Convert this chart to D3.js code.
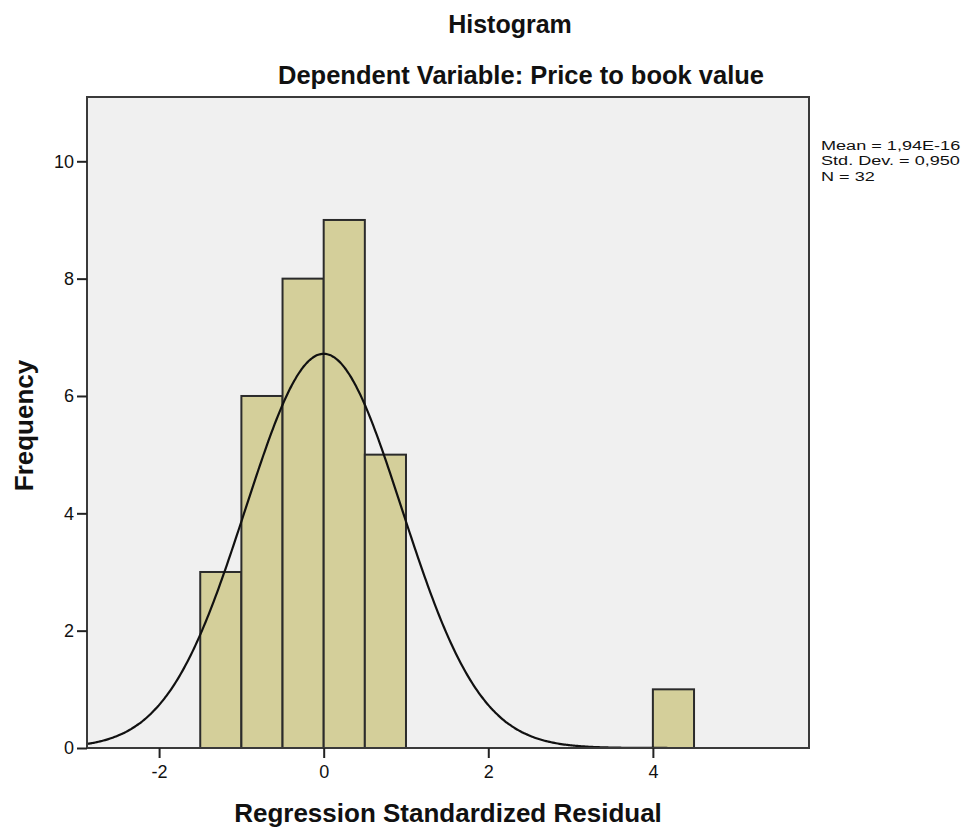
<!DOCTYPE html>
<html>
<head>
<meta charset="utf-8">
<script src="https://cdn.jsdelivr.net/npm/d3@7"></script>
<style>
    body { margin: 0; background: #fff; }
    text { font-family: Arial, "Liberation Sans", sans-serif; fill: #111; }
</style>
</head>
<body>
<svg></svg>
<script>
const width = 972;
const height = 832;

// histogram data
const binStarts = [-1.5, -1.0, -0.5, 0.0, 0.5, 4.0];
const binWidth = 0.5;
const counts = [3, 6, 8, 9, 5, 1];
const xTicks = [-2, 0, 2, 4];
const yTicks = [0, 2, 4, 6, 8, 10];

// summary stats shown on the right
const statLabels = ['Mean = 1,94E-16', 'Std. Dev. = 0,950', 'N = 32'];
const mean = 1.94e-16;
const stdDev = 0.950;
const n = 32;

const plot = { left: 87, right: 809, top: 97, bottom: 748 };

const svg = d3.select('svg')
    .attr('width', width)
    .attr('height', height);

const x = d3.scaleLinear()
    .domain([-2.876, 5.897])
    .range([plot.left, plot.right]);

const y = d3.scaleLinear()
    .domain([0, 11.096])
    .range([plot.bottom, plot.top]);

svg.append('rect')
    .attr('x', plot.left)
    .attr('y', plot.top)
    .attr('width', plot.right - plot.left)
    .attr('height', plot.bottom - plot.top)
    .attr('fill', '#f0f0f0');

const bins = binStarts.map((b, i) => ({ x0: b, x1: b + binWidth, count: counts[i] }));

svg.append('g')
    .selectAll('rect')
    .data(bins)
    .enter()
    .append('rect')
    .attr('x', d => x(d.x0))
    .attr('y', d => y(d.count))
    .attr('width', d => x(d.x1) - x(d.x0))
    .attr('height', d => y(0) - y(d.count))
    .attr('fill', '#d4cf9a')
    .attr('stroke', '#2b2b2b')
    .attr('stroke-width', 2);

// normal curve scaled to the histogram
const peak = n * binWidth / (stdDev * Math.sqrt(2 * Math.PI));
const curveX = d3.range(x.domain()[0], x.domain()[1], 0.02).concat([x.domain()[1]]);
const line = d3.line()
    .x(d => x(d))
    .y(d => y(peak * Math.exp(-0.5 * Math.pow((d - mean) / stdDev, 2))))
    .curve(d3.curveBasis);

svg.append('path')
    .datum(curveX)
    .attr('d', line)
    .attr('fill', 'none')
    .attr('stroke', '#111')
    .attr('stroke-width', 2.2);

// frame
svg.append('rect')
    .attr('x', plot.left)
    .attr('y', plot.top)
    .attr('width', plot.right - plot.left)
    .attr('height', plot.bottom - plot.top)
    .attr('fill', 'none')
    .attr('stroke', '#3a3a3a')
    .attr('stroke-width', 2);

// plain hyphen for negatives, like the original
const tickFmt = d => String(d);

const xAxis = svg.append('g')
    .attr('transform', `translate(0,${plot.bottom})`)
    .call(d3.axisBottom(x).tickValues(xTicks).tickSize(10).tickPadding(4).tickFormat(tickFmt));

const yAxis = svg.append('g')
    .attr('transform', `translate(${plot.left},0)`)
    .call(d3.axisLeft(y).tickValues(yTicks).tickSize(10).tickPadding(3).tickFormat(tickFmt));

[xAxis, yAxis].forEach(ax => {
    ax.select('.domain').remove();
    ax.selectAll('line').attr('stroke', '#222').attr('stroke-width', 2);
    ax.selectAll('text')
        .attr('font-size', '18px')
        .attr('fill', '#111')
        .style('font-family', 'Arial, "Liberation Sans", sans-serif');
});
xAxis.selectAll('text').attr('dy', '0.9em');

// titles
svg.append('text')
    .attr('x', 510)
    .attr('y', 33)
    .attr('text-anchor', 'middle')
    .attr('font-size', '25px')
    .attr('font-weight', 'bold')
    .text('Histogram');

svg.append('text')
    .attr('x', 521)
    .attr('y', 84)
    .attr('text-anchor', 'middle')
    .attr('font-size', '25.5px')
    .attr('font-weight', 'bold')
    .text('Dependent Variable: Price to book value');

svg.append('text')
    .attr('x', (plot.left + plot.right) / 2)
    .attr('y', 822)
    .attr('text-anchor', 'middle')
    .attr('font-size', '26px')
    .attr('font-weight', 'bold')
    .text('Regression Standardized Residual');

svg.append('text')
    .attr('transform', `translate(33,${(plot.top + plot.bottom) / 2 + 3}) rotate(-90)`)
    .attr('text-anchor', 'middle')
    .attr('font-size', '26px')
    .attr('font-weight', 'bold')
    .text('Frequency');

// stats block
const stats = svg.append('g')
    .attr('transform', 'translate(821,150) scale(1.34,1)');

stats.selectAll('text')
    .data(statLabels)
    .enter()
    .append('text')
    .attr('x', 0)
    .attr('y', (d, i) => i * 15.5)
    .attr('font-size', '13.5px')
    .text(d => d);
</script>
</body>
</html>
